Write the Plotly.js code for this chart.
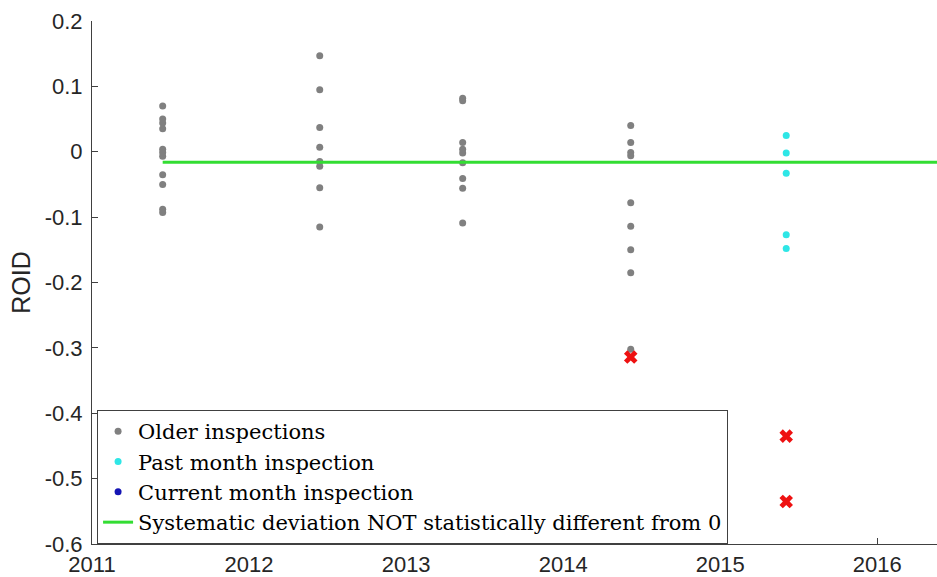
<!DOCTYPE html>
<html>
<head>
<meta charset="utf-8">
<script src="https://cdn.plot.ly/plotly-3.0.1.min.js"></script>
<style>html,body{margin:0;padding:0;background:#fff;}#chart{width:937px;height:577px;}</style>
</head>
<body>
<div id="chart"></div>
<script>
// Inspection dates (decimal years)
const inspYears = [2011.45, 2012.45, 2013.36, 2014.43, 2015.42];
const tickYears = [2011, 2012, 2013, 2014, 2015, 2016];
const yTicks = [0.2, 0.1, 0, -0.1, -0.2, -0.3, -0.4, -0.5, -0.6];
const yTickLabels = ['0.2', '0.1', '0', '-0.1', '-0.2', '-0.3', '-0.4', '-0.5', '-0.6'];

// Older inspections (grey), one array per inspection date
const older2011 = [0.070, 0.050, 0.044, 0.035, 0.004, -0.001, -0.007, -0.035, -0.050, -0.088, -0.093];
const older2012 = [0.147, 0.095, 0.037, 0.007, -0.015, -0.022, -0.055, -0.115];
const older2013 = [0.082, 0.078, 0.014, 0.004, -0.002, -0.017, -0.041, -0.056, -0.109];
const older2014 = [0.040, 0.014, -0.001, -0.006, -0.078, -0.114, -0.150, -0.185, -0.302];
// Past month inspection (cyan)
const past2015 = [0.025, -0.002, -0.033, -0.127, -0.148];
// Flagged outliers (red crosses)
const outlierX = [2014.43, 2015.42, 2015.42];
const outlierY = [-0.314, -0.435, -0.535];
// Systematic deviation line
const devX = [2011.45, 2016.5];
const devY = [-0.016, -0.016];

const olderGroups = [older2011, older2012, older2013, older2014];
const olderX = [], olderY = [];
olderGroups.forEach((g, i) => g.forEach(v => { olderX.push(inspYears[i]); olderY.push(v); }));
const pastX = past2015.map(() => inspYears[4]);

const traces = [
  {x: olderX, y: olderY, type: 'scatter', mode: 'markers', name: 'Older inspections',
   marker: {color: '#808080', size: 7}},
  {x: pastX, y: past2015, type: 'scatter', mode: 'markers', name: 'Past month inspection',
   marker: {color: '#2ee6e6', size: 7}},
  {x: [null], y: [null], type: 'scatter', mode: 'markers', name: 'Current month inspection',
   marker: {color: '#1414b4', size: 7}},
  {x: devX, y: devY, type: 'scatter', mode: 'lines', name: 'Systematic deviation NOT statistically different from 0',
   line: {color: '#33dd33', width: 3}},
  {x: outlierX, y: outlierY, type: 'scatter', mode: 'markers', showlegend: false,
   marker: {color: '#ee1111', size: 12, symbol: 'x'}}
];

const layout = {
  width: 937, height: 577,
  margin: {l: 92, r: 0, t: 21, b: 33},
  paper_bgcolor: '#fff', plot_bgcolor: '#fff',
  font: {family: 'Liberation Sans, Arial, sans-serif', color: '#262626'},
  showlegend: true,
  xaxis: {
    range: [2011, 2016.38], tickvals: tickYears, ticktext: tickYears.map(String),
    showgrid: false, zeroline: false, showline: true, linecolor: '#404040', linewidth: 1,
    ticks: 'inside', ticklen: 6, tickcolor: '#404040', tickfont: {size: 22},
    ticklabelstandoff: 1
  },
  yaxis: {
    range: [-0.6, 0.2], tickvals: yTicks, ticktext: yTickLabels,
    showgrid: false, zeroline: false, showline: true, linecolor: '#404040', linewidth: 1,
    ticks: 'inside', ticklen: 6, tickcolor: '#404040', tickfont: {size: 22},
    ticklabelstandoff: 4,
    title: {text: 'ROID', font: {size: 25}, standoff: 6}
  },
  legend: {
    x: 0.006, y: 0.256, xanchor: 'left', yanchor: 'top',
    bgcolor: '#fff', bordercolor: '#404040', borderwidth: 1,
    font: {family: 'DejaVu Serif, Liberation Serif, serif', size: 21, color: '#000'},
    itemwidth: 30
  }
};

Plotly.newPlot('chart', traces, layout, {displayModeBar: false, staticPlot: true});
</script>
</body>
</html>
